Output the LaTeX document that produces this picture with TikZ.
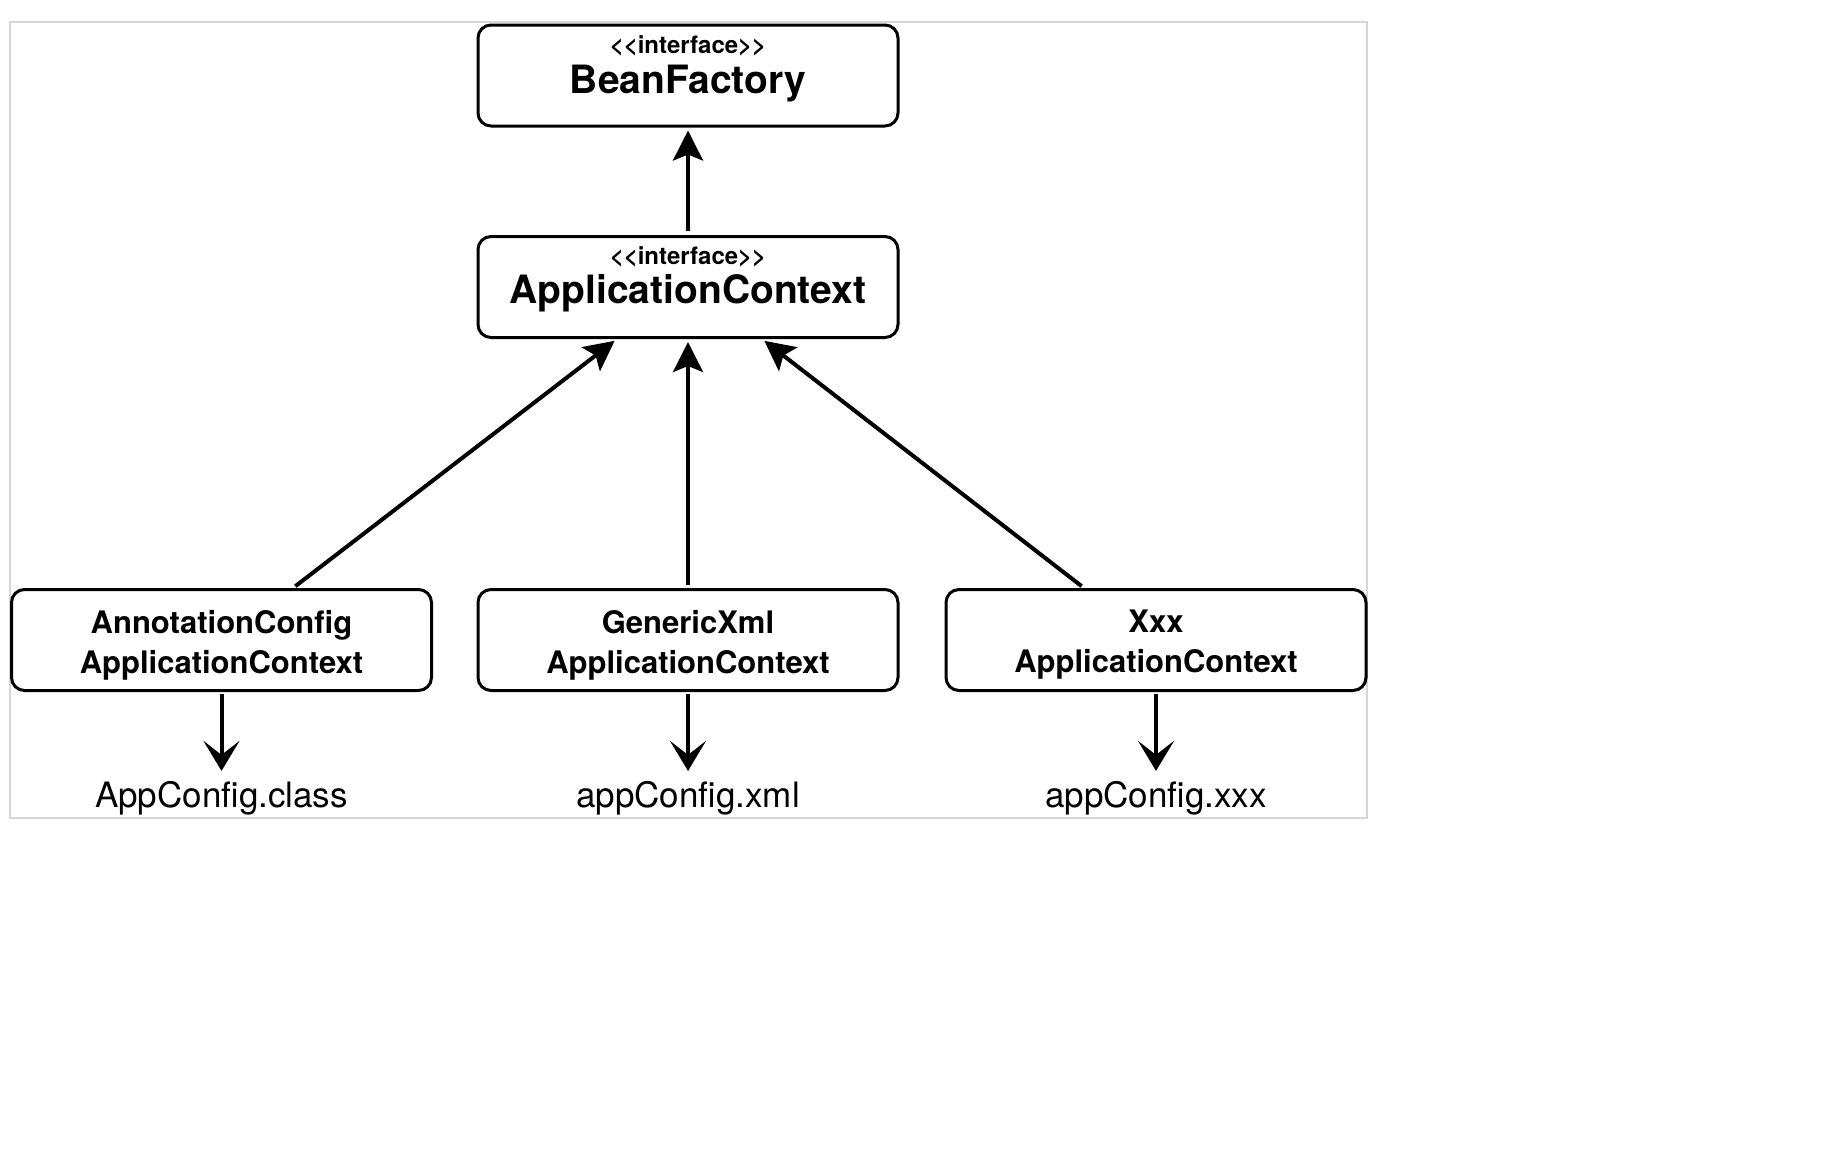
\documentclass[tikz,border=0pt]{standalone}
\usepackage{fontspec}
\setmainfont{TeX Gyre Heros}
\usetikzlibrary{arrows.meta,calc}
\begin{document}
\begin{tikzpicture}[x=1pt,y=-1pt,
  box/.style={draw=black, line width=3pt, rounded corners=13pt, minimum width=420pt, minimum height=101pt, inner sep=0pt},
  ster/.style={font=\bfseries\fontsize{24}{28}\selectfont},
  ttl/.style={font=\bfseries\fontsize{39}{46}\selectfont},
  sub/.style={font=\bfseries\fontsize{31}{40}\selectfont, align=center},
  lbl/.style={font=\fontsize{35}{40}\selectfont, inner sep=0pt},
  uparr/.style={line width=4pt, -{Stealth[length=30pt,width=30pt,inset=6pt]}},
  downarr/.style={line width=4pt, -{Stealth[length=30pt,width=36pt,inset=14pt]}}]
\useasboundingbox (0,0) rectangle (1843,1152);
\draw[black!16, line width=2pt] (9.5,22) rectangle (1366.5,818);

\node[box] (BF) at (688,75.5) {};
\node[ster] (BFs) at (688,46) {<{}<interface>{}>};
\node[ttl] (BFt) at (688,83.5) {BeanFactory};

\node[box] (AC) at (688,287) {};
\node[ster] (ACs) at (688,257) {<{}<interface>{}>};
\node[ttl] (ACt) at (688,293) {ApplicationContext};

\node[box] (L) at (221.5,640) {};
\node[box] (M) at (688,640) {};
\node[box] (R) at (1156,640) {};
\node[sub] (Lt) at (221.5,645) {AnnotationConfig\\ApplicationContext};
\node[sub] (Mt) at (688,645) {GenericXml\\ApplicationContext};
\node[sub] (Rt) at (1156,645) {Xxx\\ApplicationContext};

\node[lbl] (l1) at (221.5,798) {AppConfig.class};
\node[lbl] (l2) at (688,798) {appConfig.xml};
\node[lbl] (l3) at (1156,798) {appConfig.xxx};

\draw[uparr, shorten <=4pt, shorten >=3pt] (AC.north) -- (BF.south);
\draw[uparr, shorten <=3pt, shorten >=3pt] ($(L.north)+(71.5,0)$) -- ($(AC.south)+(-71,0)$);
\draw[uparr, shorten <=3pt, shorten >=3pt] (M.north) -- (AC.south);
\draw[uparr, shorten <=3pt, shorten >=3pt] ($(R.north)+(-72,0)$) -- ($(AC.south)+(74,0)$);

\draw[downarr, shorten <=2pt, shorten >=10pt] (L.south) -- (l1.north);
\draw[downarr, shorten <=2pt, shorten >=10pt] (M.south) -- (l2.north);
\draw[downarr, shorten <=2pt, shorten >=10pt] (R.south) -- (l3.north);
\end{tikzpicture}
\end{document}
